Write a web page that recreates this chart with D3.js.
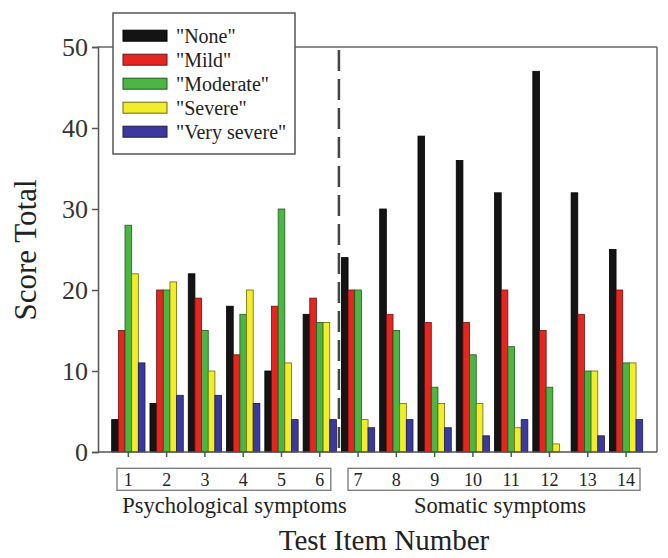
<!DOCTYPE html>
<html><head><meta charset="utf-8">
<script src="https://cdn.jsdelivr.net/npm/d3@7"></script>
<style>
html,body{margin:0;padding:0;background:#fff;}
svg{display:block;}
text{font-family:"Liberation Serif","Times New Roman",serif;fill:#222;}
</style></head>
<body>
<svg id="chart" width="668" height="558"></svg>
<script>
const items = ["1","2","3","4","5","6","7","8","9","10","11","12","13","14"];
const seriesNames = ['"None"','"Mild"','"Moderate"','"Severe"','"Very severe"'];
const seriesColors = ["#141414","#e5251f","#4cb544","#f1ec2c","#3b3a9c"];
const seriesStroke = ["#000","#6a1410","#1f5a1c","#6e6a10","#1c1b50"];
const none     = [4,6,22,18,10,17,24,30,39,36,32,47,32,25];
const mild     = [15,20,19,12,18,19,20,17,16,16,20,15,17,20];
const moderate = [28,20,15,17,30,16,20,15,8,12,13,8,10,11];
const severe   = [22,21,10,20,11,16,4,6,6,6,3,1,10,11];
const verySevere = [11,7,7,6,4,4,3,4,3,2,4,0,2,4];
const yTicks = [0,10,20,30,40,50];
const groupLabels = ["Psychological symptoms","Somatic symptoms"];
const series = [none, mild, moderate, severe, verySevere];

const svg = d3.select("#chart");
const pL = 98, pR = 657, pT = 47, pB = 452;

const x = d3.scaleBand().domain(items).range([109.2, 645.2]).paddingInner(0.13).paddingOuter(0.065);
const xs = d3.scaleBand().domain(d3.range(5)).range([0, x.bandwidth()]);
const y = d3.scaleLinear().domain([0, 50]).range([pB, pT]);

// frame top & right
svg.append("line").attr("x1", pL).attr("x2", pR).attr("y1", pT).attr("y2", pT)
  .attr("stroke", "#666").attr("stroke-width", 1.5);
svg.append("line").attr("x1", pR).attr("x2", pR).attr("y1", pT).attr("y2", pB)
  .attr("stroke", "#666").attr("stroke-width", 1.5);

// bars
items.forEach((it, i) => {
  const g = svg.append("g").attr("transform", `translate(${x(it)},0)`);
  series.forEach((s, k) => {
    if (s[i] <= 0) return;
    g.append("rect")
      .attr("x", xs(k)).attr("width", xs.bandwidth())
      .attr("y", y(s[i])).attr("height", y(0) - y(s[i]))
      .attr("fill", seriesColors[k]).attr("stroke", seriesStroke[k]).attr("stroke-width", 0.8);
  });
});

// dashed divider
const divX = (x("6") + x.bandwidth() + x("7")) / 2;
svg.append("line").attr("x1", divX).attr("x2", divX).attr("y1", pT + 3).attr("y2", pB)
  .attr("stroke", "#444").attr("stroke-width", 2.5).attr("stroke-dasharray", "21,8");

// y axis
const yAxis = svg.append("g").attr("transform", `translate(${pL},0)`)
  .call(d3.axisLeft(y).tickValues(yTicks).tickSize(6).tickPadding(4));
yAxis.select(".domain").attr("stroke", "#555").attr("stroke-width", 1.5);
yAxis.selectAll(".tick line").attr("stroke", "#555").attr("stroke-width", 1.5);
yAxis.selectAll(".tick text").attr("font-size", 26).style("fill", "#333");

// x axis
const xAxis = svg.append("g").attr("transform", `translate(0,${pB})`)
  .call(d3.axisBottom(x).tickSize(5).tickFormat(""));
xAxis.select(".domain").attr("d", `M${pL},0H${pR}`).attr("stroke", "#555").attr("stroke-width", 1.5);
xAxis.selectAll(".tick line").attr("stroke", "#3a6a30").attr("stroke-width", 1.5);

// item number labels
svg.append("g").selectAll("text").data(items).join("text")
  .attr("x", d => x(d) + x.bandwidth() / 2).attr("y", 486)
  .attr("text-anchor", "middle").attr("font-size", 18).text(d => d);

// boxes around groups
const bw = x.bandwidth();
const boxes = [
  {x0: x("1") + 5.3, x1: x("6") + bw - 5.6},
  {x0: x("7") + 6.6, x1: x("14") + bw - 2.7}
];
boxes.forEach(b => {
  svg.append("rect").attr("x", b.x0).attr("y", 468.3).attr("width", b.x1 - b.x0).attr("height", 22)
    .attr("fill", "none").attr("stroke", "#777").attr("stroke-width", 1.3);
});
svg.append("text").attr("x", 234.5).attr("y", 513).attr("text-anchor", "middle")
  .attr("font-size", 22.5).text(groupLabels[0]);
svg.append("text").attr("x", 500).attr("y", 513).attr("text-anchor", "middle")
  .attr("font-size", 22.5).text(groupLabels[1]);

// axis titles
svg.append("text").attr("x", 384).attr("y", 550).attr("text-anchor", "middle")
  .attr("font-size", 29).text("Test Item Number");
svg.append("text").attr("transform", "translate(36,250) rotate(-90)").attr("text-anchor", "middle")
  .attr("font-size", 31).text("Score Total");

// legend
const lg = svg.append("g");
lg.append("rect").attr("x", 113).attr("y", 13).attr("width", 182).attr("height", 141)
  .attr("fill", "#fff").attr("stroke", "#555").attr("stroke-width", 1.5);
seriesNames.forEach((n, k) => {
  const cy = 35.7 + k * 24;
  lg.append("rect").attr("x", 123).attr("y", cy - 5.5).attr("width", 44).attr("height", 11)
    .attr("fill", seriesColors[k]).attr("stroke", seriesStroke[k]).attr("stroke-width", 1);
  lg.append("text").attr("x", 176).attr("y", cy + 7).attr("font-size", 20).text(n);
});
</script>
</body></html>
